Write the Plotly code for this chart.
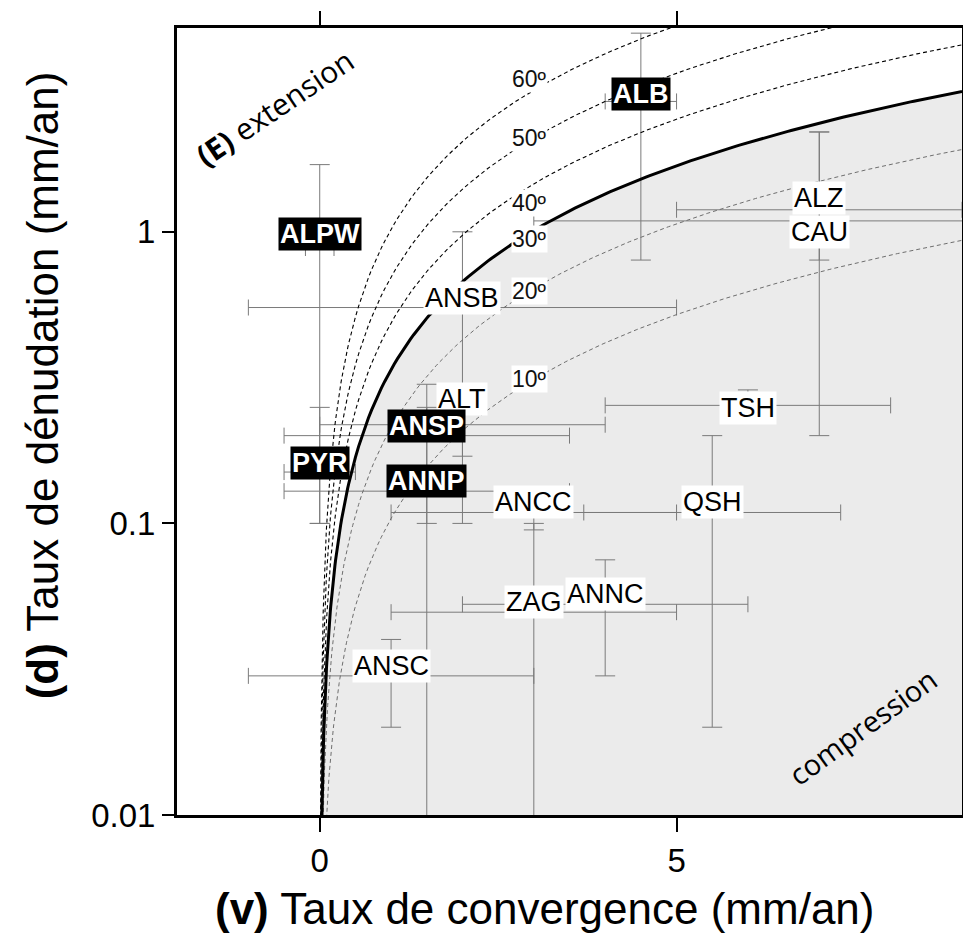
import numpy as np
import plotly.graph_objects as go

# ---------------- data ----------------
names = ["ALPW", "ALB", "ALZ", "CAU", "ANSB", "ALT", "ANSP", "ANNP", "PYR",
         "ANCC", "QSH", "TSH", "ZAG", "ANNC", "ANSC"]
v_center = [0.0, 4.5, 7.0, 7.0, 2.0, 2.0, 1.5, 1.5, 0.0, 3.0, 5.5, 6.0, 3.0, 4.0, 1.0]
v_low = [-0.2, 4.0, 5.0, 3.0, -1.0, 0.0, -0.5, -0.5, -0.5, 1.0, 3.7, 4.0, 1.0, 2.0, -1.0]
v_high = [0.2, 5.0, 9.0, 11.0, 5.0, 4.0, 3.5, 3.5, 0.5, 5.0, 7.3, 8.0, 5.0, 6.0, 3.0]
d_center = [0.88, 2.8, 1.19, 1.09, 0.55, 0.218, 0.2, 0.129, 0.15, 0.109, 0.109, 0.254, 0.0496, 0.0528, 0.030]
d_low = [0.1, 0.8, 0.8, 0.2, 0.1, 0.17, 0.1, 0.005, 0.1, 0.095, 0.02, 0.227, 0.005, 0.03, 0.02]
d_high = [1.7, 4.8, 2.2, 2.2, 1.0, 0.28, 0.3, 0.25, 0.25, 0.13, 0.2, 0.287, 0.1, 0.075, 0.04]
dark_labels = ["ALPW", "ALB", "ANSP", "ANNP", "PYR"]

angles = [10, 20, 30, 40, 50, 60]
slopes = [0.104, 0.213, 0.337, 0.487, 0.70, 1.02]     # d / v for each reference angle
angle_label_v = [2.94, 2.94, 2.94, 2.94, 2.94, 2.94]
angle_label_d = [0.314, 0.628, 0.946, 1.26, 2.10, 3.34]

x_ticks = [0, 5]
y_ticks = [0.01, 0.1, 1]

# ---------------- styling / layout helpers ----------------
FONT = "Liberation Sans, Arial, Helvetica, sans-serif"
label_yshift = {"ALPW": 14, "ALB": 7, "ALZ": 12, "CAU": -11, "ALT": 26, "TSH": -3, "PYR": 9}

v_line = np.concatenate([np.geomspace(0.004, 0.5, 120), np.linspace(0.5, 9.5, 200)[1:]])

fig = go.Figure()

# shaded compression field under the 30 deg curve
s30 = slopes[angles.index(30)]
fill_x = list(v_line) + [9.5, 9.5, v_line[0]]
fill_y = list(s30 * v_line) + [s30 * 9.5, 0.001, 0.001]
fig.add_trace(go.Scatter(x=fill_x, y=fill_y, mode="lines", fill="toself",
                         fillcolor="#ebebeb", line=dict(width=0), hoverinfo="skip",
                         showlegend=False))

# error bars
for i, n in enumerate(names):
    fig.add_trace(go.Scatter(
        x=[v_center[i]], y=[d_center[i]], mode="markers",
        marker=dict(size=1, color="rgba(0,0,0,0)"),
        error_x=dict(type="data", symmetric=False,
                     array=[v_high[i] - v_center[i]], arrayminus=[v_center[i] - v_low[i]],
                     color="#7a7a7a", thickness=1, width=8),
        error_y=dict(type="data", symmetric=False,
                     array=[d_high[i] - d_center[i]], arrayminus=[d_center[i] - d_low[i]],
                     color="#7a7a7a", thickness=1, width=10),
        showlegend=False, name=n))

# reference angle curves
for a, s in zip(angles, slopes):
    if a == 30:
        line = dict(color="black", width=3)
    elif a < 30:
        line = dict(color="#6e6e6e", width=1, dash="4px,3px")
    else:
        line = dict(color="black", width=1.1, dash="4px,3px")
    fig.add_trace(go.Scatter(x=v_line, y=s * v_line, mode="lines", line=line,
                             hoverinfo="skip", showlegend=False))

annotations = []
for a, lv, ld in zip(angles, angle_label_v, angle_label_d):
    annotations.append(dict(x=lv, y=np.log10(ld), xref="x", yref="y", text=f"{a}º",
                            showarrow=False, font=dict(family=FONT, size=23, color="#111"),
                            bgcolor="white", borderpad=0))

for i, n in enumerate(names):
    dark = n in dark_labels
    annotations.append(dict(
        x=v_center[i], y=np.log10(d_center[i]), xref="x", yref="y",
        yshift=label_yshift.get(n, 10),
        text=f"<b>{n}</b>" if dark else n, showarrow=False,
        font=dict(family=FONT, size=27, color="white" if dark else "black"),
        bgcolor="black" if dark else "white", borderpad=1))

annotations.append(dict(x=-0.63, y=0.425, xref="x", yref="y", text="<b>(E)</b> extension",
                        showarrow=False, textangle=-34,
                        font=dict(family="Open Sans", size=30, color="black")))
annotations.append(dict(x=7.6, y=-1.695, xref="x", yref="y", text="compression",
                        showarrow=False, textangle=-36,
                        font=dict(family="Open Sans", size=29, color="black")))

annotations.append(dict(x=0.469, y=-0.1182, xref="paper", yref="paper",
                        text="<b>(v)</b> Taux de convergence (mm/an)", showarrow=False,
                        xanchor="center", yanchor="middle",
                        font=dict(family=FONT, size=44, color="black")))
annotations.append(dict(x=-0.172, y=0.546, xref="paper", yref="paper",
                        text="<b>(d)</b> Taux de dénudation (mm/an)", showarrow=False,
                        textangle=-90, xanchor="center", yanchor="middle",
                        font=dict(family=FONT, size=44, color="black")))

fig.update_layout(
    width=955, height=935, autosize=False,
    margin=dict(l=169, r=1, t=20, b=128, autoexpand=False),
    paper_bgcolor="white", plot_bgcolor="white",
    annotations=annotations,
    xaxis=dict(range=[-2, 9], tickvals=x_ticks, ticktext=[str(t) for t in x_ticks],
               automargin=False,
               showgrid=False, zeroline=False, showline=True, linecolor="black",
               linewidth=3, mirror="ticks", ticks="outside", ticklen=14, tickwidth=1.5,
               tickcolor="black", tickfont=dict(family=FONT, size=33, color="black")),
    yaxis=dict(type="log", range=[-2, np.log10(5)], tickvals=y_ticks,
               ticktext=["0.01", "0.1", "1"], automargin=False,
               showgrid=False, zeroline=False, showline=True, linecolor="black",
               linewidth=3, mirror="ticks", ticks="outside", ticklen=12, tickwidth=1.5,
               tickcolor="black", tickfont=dict(family=FONT, size=33, color="black")),
)

fig.write_html("out.html")
